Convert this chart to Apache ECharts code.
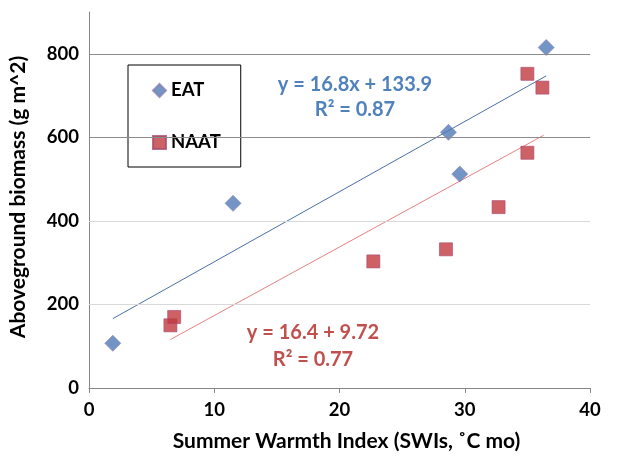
<!DOCTYPE html>
<html><head><meta charset="utf-8">
<script src="https://cdn.jsdelivr.net/npm/echarts@6/dist/echarts.min.js"></script>
<style>html,body{margin:0;padding:0;background:#fff}#c{width:617px;height:461px}</style>
</head><body><div id="c"></div>
<script>
const eatPoints = [[1.9,107],[11.5,442],[28.7,612],[29.6,512],[36.5,815]];
const naatPoints = [[6.5,150],[6.8,170],[22.7,303],[28.5,332],[32.7,433],[35.0,563],[35.0,752],[36.2,719]];
const eatTrend = [[1.9,166],[36.5,747]];
const naatTrend = [[6.5,116],[36.3,605]];
const darkGrid = [600,800];
const lightGrid = [200,400];
const xTitle = 'Summer Warmth Index (SWIs, ˚C mo)';
const yTitle = 'Aboveground biomass (g m^2)';
const eatEq = ['y = 16.8x + 133.9','R² = 0.87'];
const naatEq = ['y = 16.4 + 9.72','R² = 0.77'];

const FONT = 'Lato, "Open Sans", sans-serif';
const chart = echarts.init(document.getElementById('c'), null, {renderer:'canvas'});
const gridLines = lightGrid.map(v=>({yAxis:v,lineStyle:{color:'#d9d9d9',width:1,type:'solid'}}))
  .concat(darkGrid.map(v=>({yAxis:v,lineStyle:{color:'#8c8c8c',width:1,type:'solid'}})));
chart.setOption({
  animation:false,
  textStyle:{fontFamily:FONT},
  grid:{left:89,right:27,top:12,bottom:73,containLabel:false},
  xAxis:{type:'value',min:0,max:40,interval:10,
    name:xTitle,nameLocation:'middle',nameGap:43,
    nameTextStyle:{fontFamily:FONT,fontWeight:'bold',fontSize:21,color:'#000',padding:[0,0,0,14]},
    axisLine:{show:true,lineStyle:{color:'#868686',width:1}},
    axisTick:{show:true,inside:false,length:5,lineStyle:{color:'#868686'}},
    axisLabel:{fontFamily:FONT,fontWeight:'bold',fontSize:18.5,color:'#000',margin:13},
    splitLine:{show:false}},
  yAxis:{type:'value',min:0,max:900,interval:200,
    name:yTitle,nameLocation:'middle',nameGap:60,
    nameTextStyle:{fontFamily:FONT,fontWeight:'bold',fontSize:21,color:'#000',padding:[0,0,0,6]},
    axisLine:{show:true,lineStyle:{color:'#868686',width:1}},
    axisTick:{show:false},
    axisLabel:{fontFamily:FONT,fontWeight:'bold',fontSize:18.5,color:'#000',margin:10,showMaxLabel:false},
    splitLine:{show:false}},
  legend:{left:128,top:65,orient:'vertical',
    borderColor:'#000',borderWidth:1,padding:[16,20,15,24],itemGap:33,
    itemWidth:13,itemHeight:13,
    textStyle:{fontFamily:FONT,fontWeight:'bold',fontSize:18.5,color:'#000'},
    data:[{name:'EAT',icon:'diamond'},{name:'NAAT',icon:'rect'}]},
  series:[
    {type:'line',data:[],silent:true,z:1,
      markLine:{silent:true,symbol:'none',label:{show:false},data:gridLines}},
    {type:'line',data:eatTrend,showSymbol:false,symbol:'none',silent:true,
      lineStyle:{color:'#4a6fa5',width:1},z:2},
    {type:'line',data:naatTrend,showSymbol:false,symbol:'none',silent:true,
      lineStyle:{color:'#e58080',width:1},z:2},
    {name:'EAT',type:'scatter',data:eatPoints,symbol:'diamond',symbolSize:16,
      itemStyle:{color:'#4f7bb8',borderColor:'#8a7fb0',borderWidth:0.8},z:3},
    {name:'NAAT',type:'scatter',data:naatPoints,symbol:'rect',symbolSize:13,
      itemStyle:{color:'#c0393e',borderColor:'#a84a72',borderWidth:0.8},z:3}
  ],
  graphic:[
    {type:'text',x:355,y:85,style:{text:eatEq[0],font:'bold 20px '+FONT,fill:'#4f81bd',align:'center',verticalAlign:'middle'}},
    {type:'text',x:355,y:110,style:{text:eatEq[1],font:'bold 20px '+FONT,fill:'#4f81bd',align:'center',verticalAlign:'middle'}},
    {type:'text',x:313,y:333,style:{text:naatEq[0],font:'bold 20px '+FONT,fill:'#c0504d',align:'center',verticalAlign:'middle'}},
    {type:'text',x:313,y:360,style:{text:naatEq[1],font:'bold 20px '+FONT,fill:'#c0504d',align:'center',verticalAlign:'middle'}}
  ]
});
</script></body></html>
